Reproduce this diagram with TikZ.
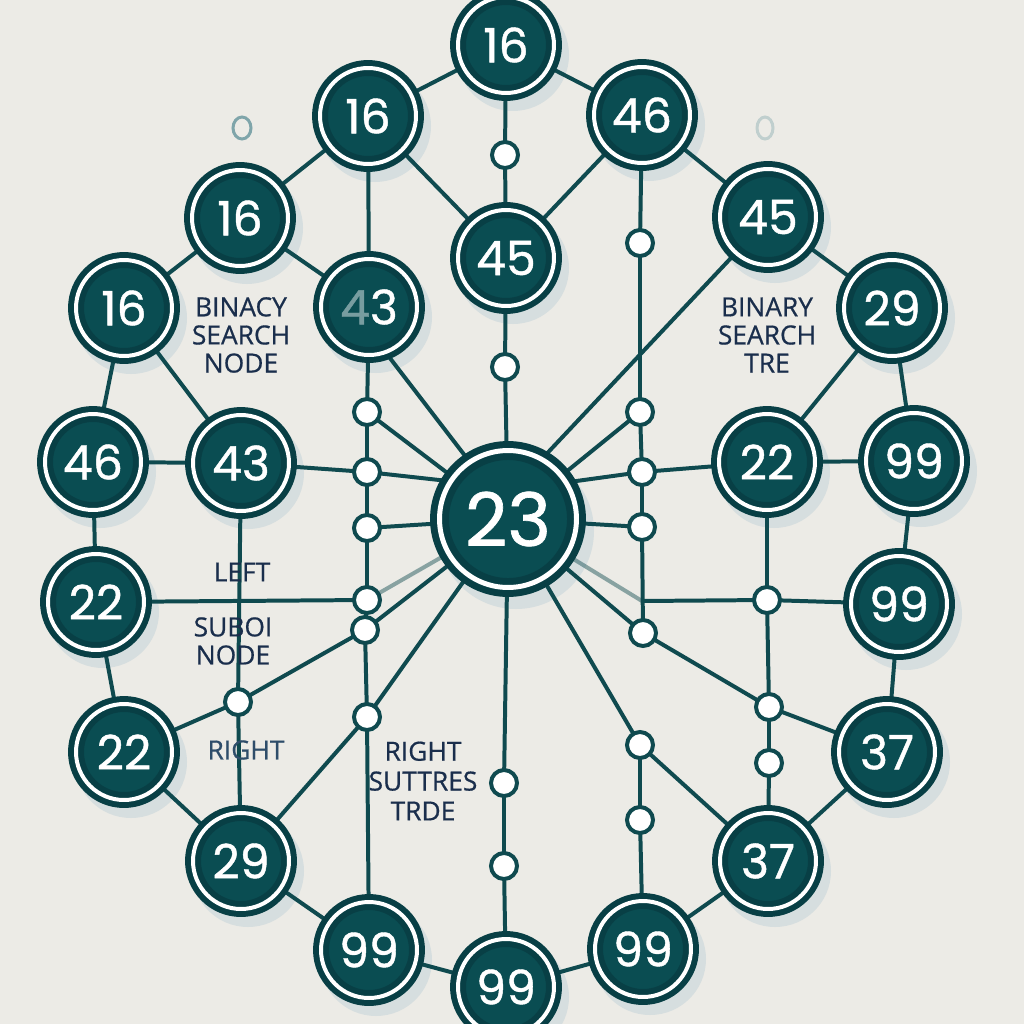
\documentclass[tikz,border=0pt]{standalone}
\usepackage{fontspec}
\newfontfamily\numfont{Poppins}[FakeBold=0.9]
\newfontfamily\labfont{Open Sans}[FakeBold=0.6]
\usetikzlibrary{calc}
\pgfdeclarelayer{bglayer}
\pgfdeclarelayer{shadowlayer}
\pgfdeclarelayer{edgelayer}
\pgfsetlayers{bglayer,shadowlayer,edgelayer,main}
\definecolor{bgc}{HTML}{ECEBE6}
\definecolor{nodefill}{HTML}{0A4D52}
\definecolor{nodeborder}{HTML}{083F45}
\definecolor{edgec}{HTML}{0F4A4F}
\definecolor{labc}{HTML}{1A2E4C}
\definecolor{labc2}{HTML}{2E4D6A}
\definecolor{shadowc}{HTML}{D6DEDF}
\definecolor{decorc}{HTML}{7FA5AA}
\begin{document}
\begin{tikzpicture}[x=0.02cm,y=-0.02cm,
  bignode/.style={circle, fill=nodefill, draw=nodeborder, double=white,
    double distance=2.27pt, line width=3.4pt, minimum size=1.92cm, inner sep=0pt,
    text=white, font=\numfont\fontsize{27}{27}\selectfont},
  hubnode/.style={circle, fill=nodefill, draw=nodeborder, double=white,
    double distance=2.83pt, line width=3.97pt, minimum size=2.74cm, inner sep=0pt,
    text=white, font=\numfont\fontsize{42}{42}\selectfont},
  dotnode/.style={circle, fill=white, draw=edgec, line width=2.27pt,
    minimum size=0.52cm, inner sep=0pt},
  lab/.style={font=\labfont\fontsize{15}{16}\selectfont, text=labc, align=center, inner sep=0pt},
  edge/.style={draw=edgec, line width=2.27pt},
  faintedge/.style={draw=edgec, line width=2.27pt, opacity=0.45},
  decor/.style={draw=decorc, line width=1.7pt}
]
\begin{pgfonlayer}{bglayer}
\fill[bgc] (0,0) rectangle (1024,1024);
\end{pgfonlayer}
\useasboundingbox (0,0) rectangle (1024,1024);

% big nodes
\node[bignode] (t1) at (506,45) {16};
\node[bignode] (a) at (368,116) {16};
\node[bignode] (b) at (642,115) {46};
\node[bignode] (c) at (240,218) {16};
\node[bignode] (d) at (768,217) {45};
\node[bignode] (e) at (506,258) {45};
\node[bignode] (f) at (124,308) {16};
\node[bignode] (g) at (369,307) {{\color{white!45!nodefill}4}3};
\node[bignode] (h) at (892,308) {29};
\node[bignode] (i) at (93,462) {46};
\node[bignode] (j) at (241,463) {43};
\node[bignode] (k) at (767,462) {22};
\node[bignode] (l) at (914,461) {99};
\node[hubnode] (m) at (508,519) {23};
\node[bignode] (n) at (96,602) {22};
\node[bignode] (o) at (899,604) {99};
\node[bignode] (p) at (124,752) {22};
\node[bignode] (q) at (887,752) {37};
\node[bignode] (r) at (241,861) {29};
\node[bignode] (s) at (768,861) {37};
\node[bignode] (u) at (369,950) {99};
\node[bignode] (v) at (506,987) {99};
\node[bignode] (w) at (643,949) {99};

% small nodes
\node[dotnode] (s1) at (505,155) {};
\node[dotnode] (s2) at (640,243) {};
\node[dotnode] (s3) at (505,367) {};
\node[dotnode] (s4) at (367,412) {};
\node[dotnode] (s5) at (367,472) {};
\node[dotnode] (s6) at (367,528) {};
\node[dotnode] (s7) at (367,600) {};
\node[dotnode] (s8) at (365,630) {};
\node[dotnode] (s9) at (367,717) {};
\node[dotnode] (s10) at (640,412) {};
\node[dotnode] (s11) at (642,472) {};
\node[dotnode] (s12) at (642,527) {};
\node[dotnode] (s13) at (643,633) {};
\node[dotnode] (s14) at (238,702) {};
\node[dotnode] (s15) at (767,600) {};
\node[dotnode] (s16) at (769,707) {};
\node[dotnode] (s17) at (769,763) {};
\node[dotnode] (s18) at (640,745) {};
\node[dotnode] (s19) at (640,820) {};
\node[dotnode] (s20) at (504,783) {};
\node[dotnode] (s21) at (504,866) {};
\coordinate (j601) at (642,601);

% faint decorative rings
\draw[decor] (242,128) ellipse [x radius=9, y radius=11];
\draw[decor, opacity=0.4] (765,128) ellipse [x radius=8, y radius=11];

% labels
\node[lab] (lab1) at (241,335) {BINACY\\SEARCH\\NODE};
\node[lab] (lab2) at (767,335) {BINARY\\SEARCH\\TRE};
\node[lab] (lab3) at (242,572) {LEFT};
\node[lab] (lab4) at (233,641) {SUBOI\\NODE};
\node[lab, text=labc2] (lab5) at (246,750) {RIGHT};
\node[lab, font=\labfont\fontsize{15}{17}\selectfont] (lab6) at (423,781) {RIGHT\\SUTTRES\\TRDE};

% shadows
\begin{pgfonlayer}{shadowlayer}
\foreach \nn in {t1,a,b,c,d,e,f,g,h,i,j,k,l,n,o,p,q,r,s,u,v,w}{
  \fill[shadowc] ($(\nn.center)+(7,10)$) circle[radius=56];
}
\fill[shadowc] ($(m.center)+(8,12)$) circle[radius=78];
\end{pgfonlayer}

% edges
\begin{pgfonlayer}{edgelayer}
\foreach \xa/\xb in {t1/a, t1/b, a/c, b/d, c/f, d/h, f/i, h/l, i/n, l/o, n/p, o/q,
  p/r, q/s, r/u, s/w, u/v, w/v, a/e, b/e, t1/s1, s1/e, e/s3, s3/m, m/s20, s20/s21, s21/v,
  a/g, c/g, f/j, i/j, j/s5, g/s4, s4/s5, s5/s6, s6/s7, s7/s8, s8/s9, s9/u,
  s4/m, s6/m, s8/m, s14/s8, p/s14, r/s9, s9/m, j/s14, s14/r, n/s7,
  b/s2, s2/s10, s10/s11, s11/s12, s12/s13, m/s10, m/s12, m/s13, s13/s16, s16/q,
  m/s18, s18/s19, s19/w, s18/s, s11/k, h/k, k/l, k/s15, s15/s16, s16/s17, s17/s, s15/o}{
  \draw[edge] (\xa.center) -- (\xb.center);
}
\draw[edge] (g.-69) -- (m.124);
\draw[edge] (d.228) -- (m.60);
\draw[edge] (s5.center) -- (m.148);
\draw[edge] (s11.center) -- (m.31);
\draw[edge] (j601) -- (s15.center);
\draw[faintedge] (s7.center) -- (m.center);
\draw[faintedge] (m.center) -- (j601);
\end{pgfonlayer}
\end{tikzpicture}
\end{document}
